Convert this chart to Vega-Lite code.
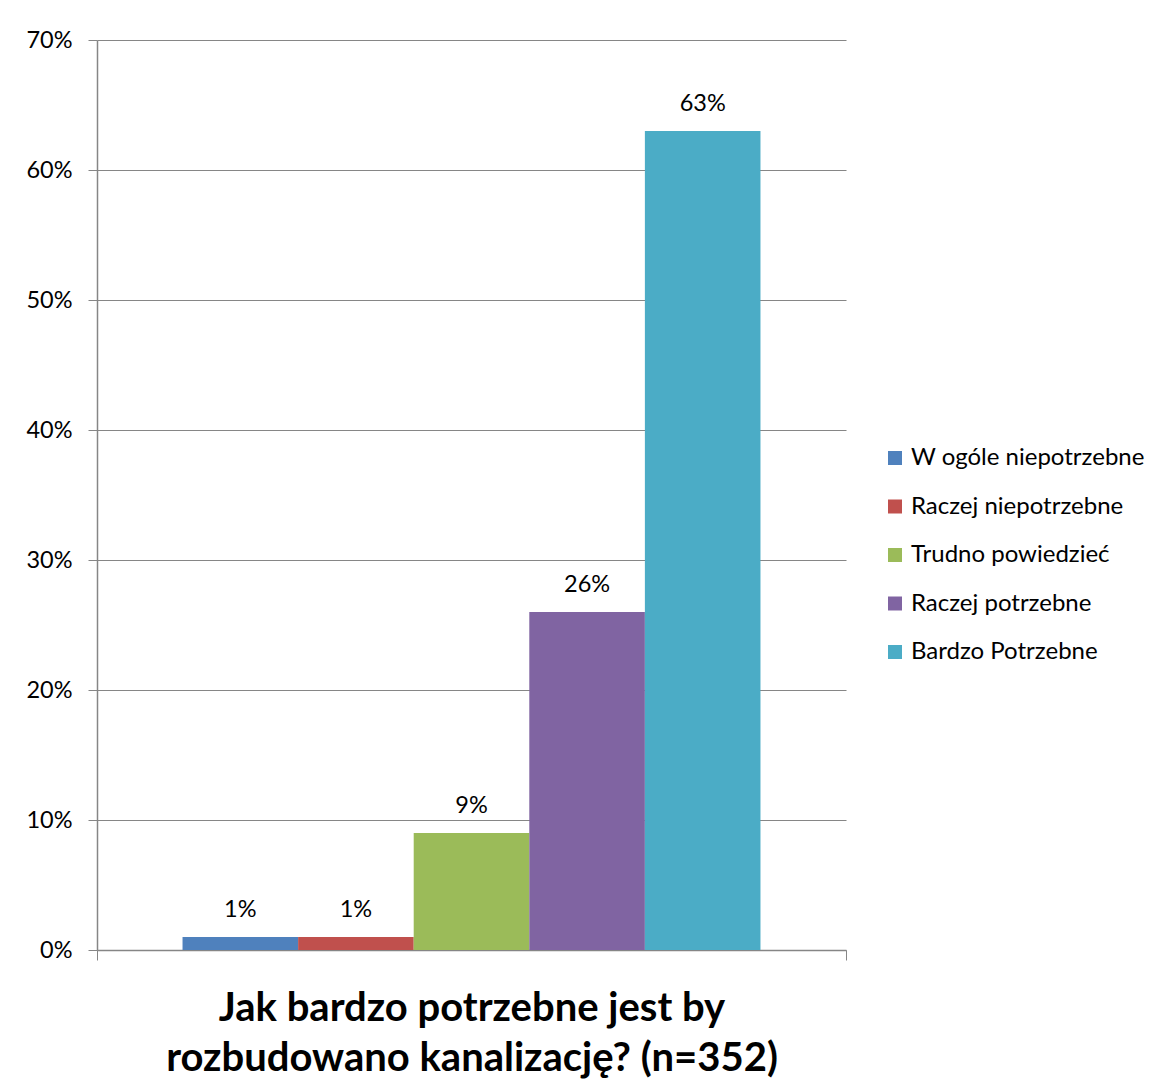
{
  "$schema": "https://vega.github.io/schema/vega-lite/v6.json",
  "autosize": "none",
  "width": 749,
  "height": 910,
  "padding": {"left": 97, "top": 40, "right": 323, "bottom": 140},
  "background": "white",
  "config": {
    "font": "Lato",
    "view": {"stroke": null}
  },
  "data": {
    "values": [
      {"cat": "Q", "series": "W ogóle niepotrzebne", "value": 0.01, "label": "1%"},
      {"cat": "Q", "series": "Raczej niepotrzebne", "value": 0.01, "label": "1%"},
      {"cat": "Q", "series": "Trudno powiedzieć", "value": 0.09, "label": "9%"},
      {"cat": "Q", "series": "Raczej potrzebne", "value": 0.26, "label": "26%"},
      {"cat": "Q", "series": "Bardzo Potrzebne", "value": 0.63, "label": "63%"}
    ]
  },
  "encoding": {
    "x": {
      "field": "cat", "type": "nominal",
      "scale": {"paddingInner": 0, "paddingOuter": 0},
      "axis": {
        "labels": false,
        "tickBand": "extent",
        "tickSize": 10,
        "tickColor": "#868686",
        "domainColor": "#868686",
        "domainWidth": 1.5,
        "title": ["Jak bardzo potrzebne jest by", "rozbudowano kanalizację? (n=352)"],
        "titleFontSize": 40,
        "titleFontWeight": "bold",
        "titleColor": "black",
        "titleLineHeight": 50,
        "titlePadding": 28
      }
    },
    "xOffset": {
      "field": "series", "type": "nominal",
      "sort": ["W ogóle niepotrzebne", "Raczej niepotrzebne", "Trudno powiedzieć", "Raczej potrzebne", "Bardzo Potrzebne"],
      "scale": {"paddingInner": 0, "paddingOuter": 0.74}
    },
    "y": {
      "field": "value", "type": "quantitative",
      "scale": {"domain": [0, 0.7], "nice": false},
      "axis": {
        "values": [0, 0.1, 0.2, 0.3, 0.4, 0.5, 0.6, 0.7],
        "format": ".0%",
        "title": null,
        "labelFontSize": 23.5,
        "labelColor": "black",
        "labelPadding": 16,
        "tickSize": 9,
        "tickColor": "#868686",
        "domainColor": "#868686",
        "domainWidth": 1.5,
        "gridColor": "#868686",
        "gridWidth": 1.2
      }
    }
  },
  "layer": [
    {
      "mark": {"type": "bar"},
      "encoding": {
        "color": {
          "field": "series", "type": "nominal",
          "sort": ["W ogóle niepotrzebne", "Raczej niepotrzebne", "Trudno powiedzieć", "Raczej potrzebne", "Bardzo Potrzebne"],
          "scale": {"range": ["#4F81BD", "#C0504D", "#9BBB59", "#8064A2", "#4BACC6"]},
          "legend": {
            "title": null,
            "orient": "none",
            "legendX": 786,
            "legendY": 406,
            "symbolType": "square",
            "symbolSize": 196,
            "symbolStrokeWidth": 0,
            "labelFontSize": 24,
            "labelColor": "black",
            "labelOffset": 4,
            "rowPadding": 24.5,
            "labelLimit": 400
          }
        }
      }
    },
    {
      "mark": {"type": "text", "dy": -27, "fontSize": 23.5, "color": "black", "baseline": "middle"},
      "encoding": {"text": {"field": "label"}}
    }
  ]
}
